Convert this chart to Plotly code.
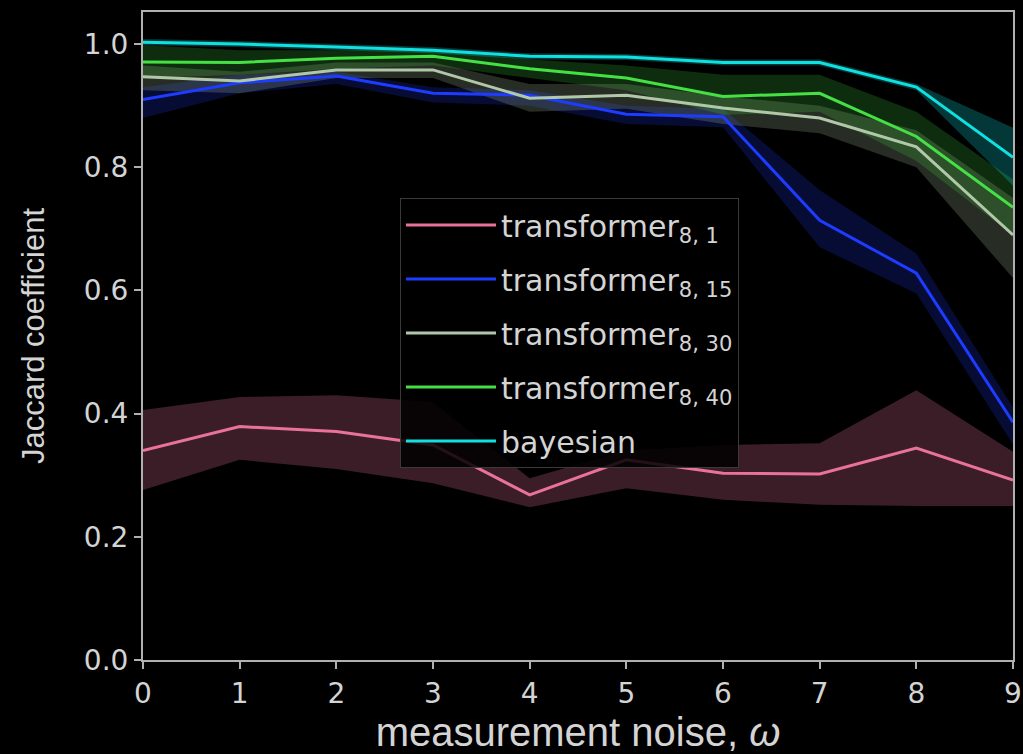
import plotly.graph_objects as go

x = [0, 1, 2, 3, 4, 5, 6, 7, 8, 9]

names = ["transformer<sub>8, 1</sub>", "transformer<sub>8, 15</sub>",
         "transformer<sub>8, 30</sub>", "transformer<sub>8, 40</sub>", "bayesian"]
colors = ["#e8729c", "#1e3cff", "#b0c8a8", "#44e044", "#10e0e0"]
band_colors = ["rgba(232,114,156,0.25)", "rgba(30,60,255,0.2)",
               "rgba(176,200,168,0.22)", "rgba(68,224,68,0.2)", "rgba(16,224,224,0.25)"]

t81 = [0.340, 0.379, 0.371, 0.349, 0.268, 0.325, 0.303, 0.302, 0.344, 0.292]
t81_hi = [0.406, 0.427, 0.430, 0.419, 0.295, 0.340, 0.349, 0.352, 0.438, 0.338]
t81_lo = [0.276, 0.325, 0.310, 0.287, 0.248, 0.279, 0.260, 0.252, 0.250, 0.250]

t815 = [0.910, 0.937, 0.948, 0.920, 0.917, 0.886, 0.882, 0.714, 0.628, 0.386]
t815_hi = [0.930, 0.950, 0.955, 0.930, 0.925, 0.900, 0.895, 0.763, 0.660, 0.410]
t815_lo = [0.880, 0.920, 0.935, 0.905, 0.900, 0.870, 0.865, 0.670, 0.595, 0.350]

t830 = [0.947, 0.940, 0.958, 0.958, 0.912, 0.917, 0.896, 0.880, 0.833, 0.690]
t830_hi = [0.965, 0.955, 0.970, 0.970, 0.935, 0.935, 0.915, 0.900, 0.860, 0.750]
t830_lo = [0.925, 0.920, 0.945, 0.945, 0.890, 0.895, 0.870, 0.855, 0.800, 0.620]

t840 = [0.971, 0.970, 0.977, 0.980, 0.960, 0.945, 0.915, 0.920, 0.850, 0.735]
t840_hi = [0.998, 0.990, 0.990, 0.990, 0.975, 0.965, 0.950, 0.950, 0.890, 0.780]
t840_lo = [0.945, 0.950, 0.960, 0.965, 0.945, 0.925, 0.885, 0.890, 0.810, 0.690]

bay = [1.003, 1.000, 0.995, 0.990, 0.980, 0.979, 0.970, 0.970, 0.930, 0.816]
bay_hi = [1.008, 1.005, 1.000, 0.995, 0.985, 0.984, 0.975, 0.975, 0.935, 0.864]
bay_lo = [0.998, 0.995, 0.990, 0.985, 0.975, 0.974, 0.965, 0.965, 0.925, 0.770]

series = [(t81, t81_hi, t81_lo), (t815, t815_hi, t815_lo), (t830, t830_hi, t830_lo),
          (t840, t840_hi, t840_lo), (bay, bay_hi, bay_lo)]

fig = go.Figure()
for (mid, hi, lo), name, col, bcol in zip(series, names, colors, band_colors):
    fig.add_trace(go.Scatter(x=x + x[::-1], y=hi + lo[::-1], fill="toself",
                             fillcolor=bcol, line=dict(width=0), mode="lines",
                             showlegend=False, hoverinfo="skip"))
for i, ((mid, hi, lo), name, col) in enumerate(zip(series, names, colors)):
    fig.add_trace(go.Scatter(x=x, y=mid, mode="lines", name=name, legendgroup=f"g{i}",
                             line=dict(color=col, width=3)))

axis_common = dict(showline=True, linecolor="#b0b0b0", linewidth=2, mirror=True,
                   showgrid=False, zeroline=False, ticks="outside", ticklen=7,
                   tickcolor="#b0b0b0", tickwidth=2, automargin=False,
                   tickfont=dict(size=28, color="#d4d4d4", family="DejaVu Sans"))

fig.update_layout(
    width=1023, height=754,
    paper_bgcolor="black", plot_bgcolor="black",
    margin=dict(l=143, r=10, t=12, b=94, autoexpand=False),
    font=dict(family="DejaVu Sans", color="#d4d4d4"),
    xaxis=dict(range=[0, 9], tickvals=x,
               title=dict(text="measurement noise, <i>ω</i>",
                          font=dict(size=40, color="#d4d4d4", family="Liberation Sans"),
                          standoff=2), **axis_common),
    yaxis=dict(range=[0, 1.052], tickvals=[0, 0.2, 0.4, 0.6, 0.8, 1.0], tickformat=".1f",
               title=dict(text="Jaccard coefficient",
                          font=dict(size=31, color="#d4d4d4", family="Liberation Sans"),
                          standoff=30), **axis_common),
    legend=dict(x=0.2954, y=0.713, xanchor="left", yanchor="top",
                bgcolor="rgba(0,0,0,0.85)", bordercolor="#3a3a3a", borderwidth=1,
                font=dict(size=30, color="#d4d4d4", family="DejaVu Sans"),
                tracegroupgap=12, itemwidth=90),
    showlegend=True,
)

fig.write_html("out.html", config={"displayModeBar": False},
               post_script="document.body.style.margin='0';")
